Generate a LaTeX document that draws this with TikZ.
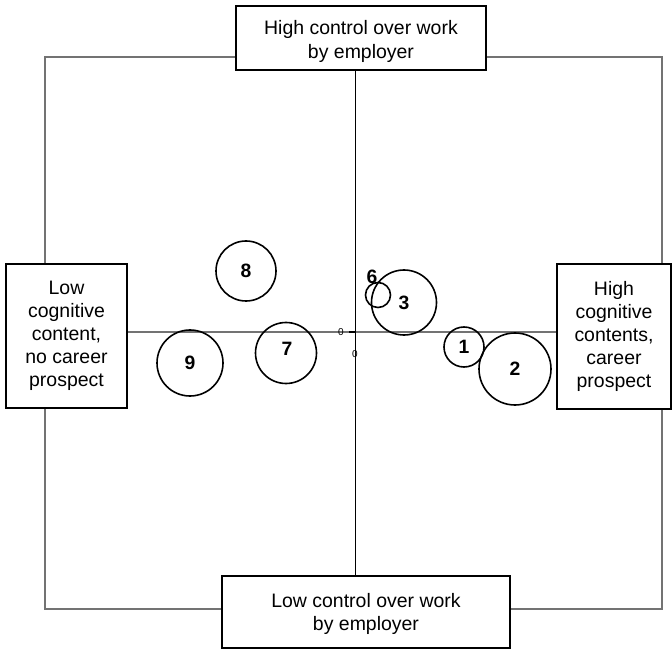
\documentclass[tikz,border=0pt]{standalone}
\usepackage{fontspec}
\setmainfont{Liberation Sans}
\begin{document}
\begin{tikzpicture}[x=0.75pt,y=-0.75pt,
  labelbox/.style={draw=black,line width=1.3pt,fill=white,align=center,inner sep=0pt,
    font=\fontsize{14.6}{17.3}\selectfont},
  boxtext/.style={align=center,inner sep=0pt,font=\fontsize{14.6}{17.3}\selectfont},
  bubble/.style={draw=black,line width=1.2pt,circle,inner sep=0pt,
    font=\fontsize{14.5}{16}\selectfont\bfseries},
  numtext/.style={font=\fontsize{14.5}{16}\selectfont\bfseries,inner sep=0pt},
  zerotext/.style={font=\fontsize{7.5}{9}\selectfont,inner sep=0pt},
  frame/.style={draw=gray!90!black,line width=1.3pt},
  haxis/.style={draw=gray!90!black,line width=1.3pt},
  vaxis/.style={draw=black,line width=0.75pt}]
\useasboundingbox (0,0) rectangle (672,649);
% gray frame
\draw[frame] (45,57) rectangle (662,609);
% axis end coordinates
\coordinate (vt) at (355,70);
\coordinate (vb) at (355,576);
\coordinate (hl) at (127,332);
\coordinate (hr) at (557,332);
\coordinate (tk1) at (349,332);
\coordinate (tk2) at (355,332);
\draw[haxis] (hl) -- (hr);
\draw[vaxis] (vt) -- (vb);
\draw[black,line width=1.3pt] (tk1) -- (tk2);
% zero labels
\node[zerotext] (z1) at (341,332) {0};
\node[zerotext] (z2) at (355,354) {0};
% boxes
\node[labelbox,minimum width=250*0.75pt,minimum height=64*0.75pt] (top) at (361,38) {};
\node[boxtext] (toptext) at (361,41.5) {High control over work\\by employer};
\node[labelbox,minimum width=288*0.75pt,minimum height=72*0.75pt] (bot) at (366,612) {};
\node[boxtext] (bottext) at (366,613.5) {Low control over work\\by employer};
\node[labelbox,minimum width=121*0.75pt,minimum height=144*0.75pt] (left) at (66.5,336)
  {Low\\cognitive\\content,\\no career\\prospect};
\node[labelbox,minimum width=114*0.75pt,minimum height=145*0.75pt] (right) at (614,336.5)
  {High\\cognitive\\contents,\\career\\prospect};
% bubbles
\node[bubble,minimum size=60*0.75pt] (b8) at (246,271) {8};
\node[bubble,minimum size=66*0.75pt] (b9) at (190,363) {9};
\node[bubble,minimum size=61*0.75pt] (b7) at (286,353) {};
\node[numtext] (l7) at (287,349) {7};
\node[bubble,minimum size=65*0.75pt] (b3) at (404,302.5) {3};
\node[bubble,minimum size=25*0.75pt] (b6) at (378,295) {};
\node[numtext] (l6) at (372,277) {6};
\node[bubble,minimum size=40*0.75pt] (b1) at (464,347) {1};
\node[bubble,minimum size=72*0.75pt] (b2) at (515,369) {2};
\end{tikzpicture}
\end{document}
